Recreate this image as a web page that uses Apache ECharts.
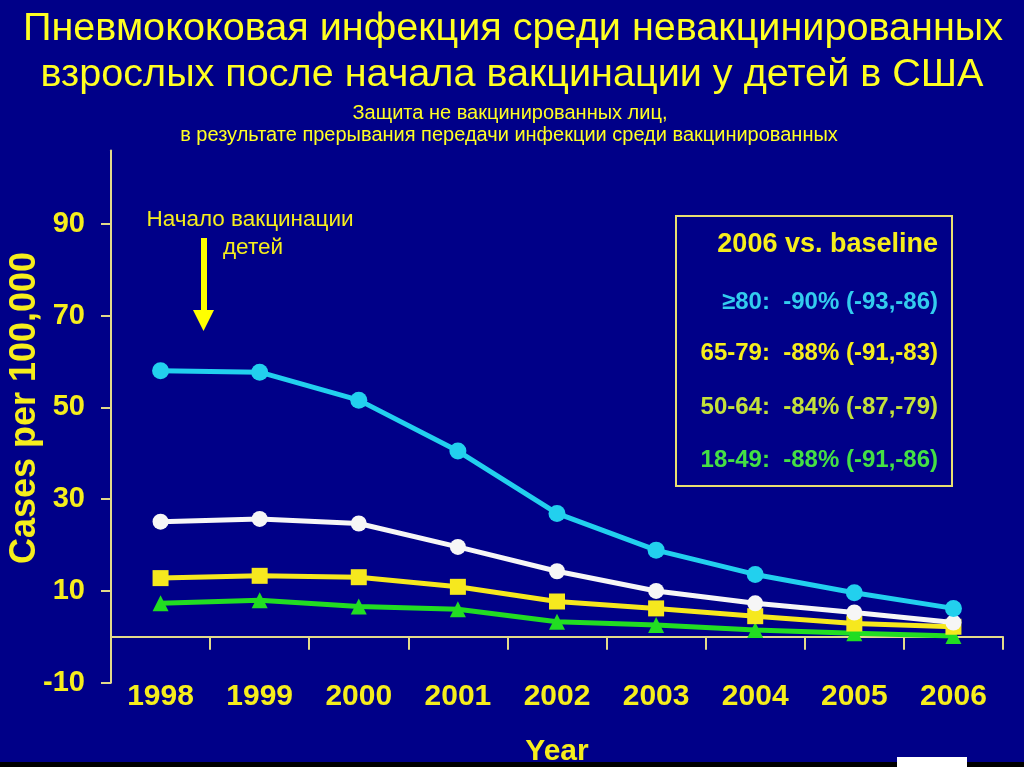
<!DOCTYPE html>
<html><head><meta charset="utf-8">
<script src="https://cdn.jsdelivr.net/npm/echarts@6/dist/echarts.min.js"></script>
<style>html,body{margin:0;padding:0;background:#000088;}#c{width:1024px;height:767px;}</style>
</head><body><div id="c"></div>
<script>
const years = ['1998','1999','2000','2001','2002','2003','2004','2005','2006'];
const age80plus = [58.0, 57.7, 51.6, 40.5, 26.9, 18.9, 13.6, 9.6, 6.2];
const age65to79 = [25.1, 25.7, 24.7, 19.6, 14.3, 10.0, 7.3, 5.3, 3.1];
const age50to64 = [12.8, 13.3, 13.0, 10.9, 7.7, 6.2, 4.5, 2.9, 2.2];
const age18to49 = [7.3, 8.0, 6.6, 6.0, 3.3, 2.6, 1.5, 0.8, 0.2];
const yTicks = [-10, 10, 30, 50, 70, 90];
const titleLines = ['Пневмококовая инфекция среди невакцинированных', 'взрослых после начала вакцинации у детей в США'];
const subtitleLines = ['Защита не вакцинированных лиц,', 'в результате прерывания передачи инфекции среди вакцинированных'];
const annotationLines = ['Начало вакцинации', 'детей'];
const yAxisTitle = 'Cases per 100,000';
const xAxisTitle = 'Year';
const boxTitle = '2006 vs. baseline';
const boxLines = ['≥80:  -90% (-93,-86)', '65-79:  -88% (-91,-83)', '50-64:  -84% (-87,-79)', '18-49:  -88% (-91,-86)'];

const SANS = "'Liberation Sans',Arial,sans-serif";
const YEL = '#f6ee1c';
const TYEL = '#ffff22';
const AXIS = '#e2da8a';
const boxColors = ['#33ccee', '#f6ee1c', '#c4e23a', '#44e044'];
const boxY = [302, 353, 407, 460];

const chart = echarts.init(document.getElementById('c'));
chart.setOption({
  backgroundColor: '#000088',
  animation: false,
  grid: { left: 111, right: 21, top: 150.6, bottom: 84.3, containLabel: false, outerBoundsMode: 'none' },
  xAxis: [
    { type: 'category', data: years, position: 'bottom', boundaryGap: true,
      axisLine: { show: false, onZero: false }, axisTick: { show: false },
      axisLabel: { interval: 0, color: YEL, fontFamily: SANS, fontWeight: 'bold', fontSize: 30, margin: -1 },
      name: xAxisTitle, nameLocation: 'middle', nameGap: 54, nameMoveOverlap: false,
      nameTextStyle: { color: YEL, fontFamily: SANS, fontWeight: 'bold', fontSize: 30 } },
    { type: 'category', data: years, position: 'bottom', boundaryGap: true,
      axisLine: { show: true, onZero: true, lineStyle: { color: AXIS, width: 2 } },
      axisTick: { show: true, length: 13, alignWithLabel: false, lineStyle: { color: AXIS, width: 2 } },
      axisLabel: { show: false } }
  ],
  yAxis: {
    type: 'value', min: -10, max: 106,
    axisLine: { show: true, lineStyle: { color: AXIS, width: 2 } },
    axisTick: { show: true, length: 10, customValues: yTicks, lineStyle: { color: AXIS, width: 2 } },
    axisLabel: { customValues: yTicks, color: YEL, fontFamily: SANS, fontWeight: 'bold', fontSize: 29, margin: 26 },
    splitLine: { show: false }
  },
  series: [
    { name: '18-49', type: 'line', data: age18to49, symbol: 'triangle', symbolSize: 16,
      lineStyle: { color: '#22dd22', width: 5 }, itemStyle: { color: '#22dd22' }, z: 2 },
    { name: '50-64', type: 'line', data: age50to64, symbol: 'rect', symbolSize: 16,
      lineStyle: { color: '#f6e81e', width: 5 }, itemStyle: { color: '#f6e81e' }, z: 3 },
    { name: '65-79', type: 'line', data: age65to79, symbol: 'circle', symbolSize: 16,
      lineStyle: { color: '#f6f6f6', width: 5 }, itemStyle: { color: '#f6f6f6' }, z: 4 },
    { name: '>=80', type: 'line', data: age80plus, symbol: 'circle', symbolSize: 17,
      lineStyle: { color: '#22d0ee', width: 5 }, itemStyle: { color: '#22d0ee' }, z: 5 }
  ],
  graphic: [
    { type: 'text', x: 513, y: 29, style: { text: titleLines[0], fill: TYEL, font: '39.6px ' + SANS, textAlign: 'center', textVerticalAlign: 'middle' } },
    { type: 'text', x: 512, y: 75, style: { text: titleLines[1], fill: TYEL, font: '39.6px ' + SANS, textAlign: 'center', textVerticalAlign: 'middle' } },
    { type: 'text', x: 510, y: 113, style: { text: subtitleLines[0], fill: TYEL, font: '20px ' + SANS, textAlign: 'center', textVerticalAlign: 'middle' } },
    { type: 'text', x: 509, y: 135, style: { text: subtitleLines[1], fill: TYEL, font: '20px ' + SANS, textAlign: 'center', textVerticalAlign: 'middle' } },
    { type: 'text', x: 25, y: 408, rotation: Math.PI / 2, style: { text: yAxisTitle, fill: YEL, font: 'bold 36px ' + SANS, textAlign: 'center', textVerticalAlign: 'middle' } },
    { type: 'text', x: 250, y: 220, style: { text: annotationLines[0], fill: YEL, font: '22.5px ' + SANS, textAlign: 'center', textVerticalAlign: 'middle' } },
    { type: 'text', x: 253, y: 247.5, style: { text: annotationLines[1], fill: YEL, font: '22.5px ' + SANS, textAlign: 'center', textVerticalAlign: 'middle' } },
    { type: 'rect', shape: { x: 201, y: 238, width: 6, height: 74 }, style: { fill: '#ffff00' } },
    { type: 'polygon', shape: { points: [[193, 310], [214, 310], [203.5, 331]] }, style: { fill: '#ffff00' } },
    { type: 'rect', shape: { x: 676, y: 216, width: 276, height: 270 }, style: { fill: 'none', stroke: '#e8e070', lineWidth: 2 } },
    { type: 'text', x: 938, y: 245, style: { text: boxTitle, fill: YEL, font: 'bold 27px ' + SANS, textAlign: 'right', textVerticalAlign: 'middle' } },
    ...boxLines.map((t, i) => ({ type: 'text', x: 938, y: boxY[i], style: { text: t, fill: boxColors[i], font: 'bold 24px ' + SANS, textAlign: 'right', textVerticalAlign: 'middle' } })),
    { type: 'rect', shape: { x: 0, y: 762, width: 1024, height: 5 }, style: { fill: '#000000' } },
    { type: 'rect', shape: { x: 897, y: 757, width: 70, height: 10 }, style: { fill: '#ffffff' } }
  ]
});
</script></body></html>
